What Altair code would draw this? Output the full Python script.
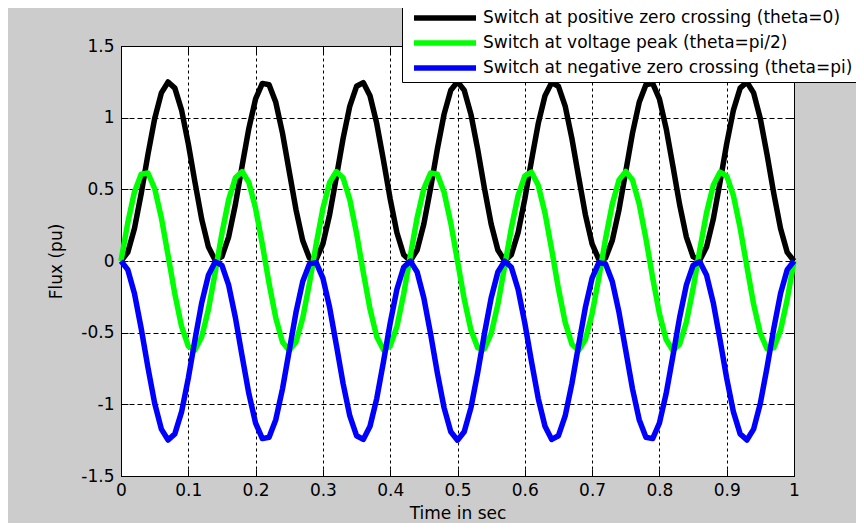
import altair as alt
import pandas as pd

# sample times (s)
time_s = [
    0.00, 0.01, 0.02, 0.03, 0.04, 0.05, 0.06, 0.07, 0.08, 0.09,
    0.10, 0.11, 0.12, 0.13, 0.14, 0.15, 0.16, 0.17, 0.18, 0.19,
    0.20, 0.21, 0.22, 0.23, 0.24, 0.25, 0.26, 0.27, 0.28, 0.29,
    0.30, 0.31, 0.32, 0.33, 0.34, 0.35, 0.36, 0.37, 0.38, 0.39,
    0.40, 0.41, 0.42, 0.43, 0.44, 0.45, 0.46, 0.47, 0.48, 0.49,
    0.50, 0.51, 0.52, 0.53, 0.54, 0.55, 0.56, 0.57, 0.58, 0.59,
    0.60, 0.61, 0.62, 0.63, 0.64, 0.65, 0.66, 0.67, 0.68, 0.69,
    0.70, 0.71, 0.72, 0.73, 0.74, 0.75, 0.76, 0.77, 0.78, 0.79,
    0.80, 0.81, 0.82, 0.83, 0.84, 0.85, 0.86, 0.87, 0.88, 0.89,
    0.90, 0.91, 0.92, 0.93, 0.94, 0.95, 0.96, 0.97, 0.98, 0.99,
    1.00,
]

flux_theta0 = [
    0.000, 0.060, 0.227, 0.470, 0.742, 0.992, 1.173, 1.249, 1.206, 1.053,
    0.818, 0.547, 0.290, 0.097, 0.005, 0.031, 0.169, 0.395, 0.664, 0.926,
    1.131, 1.239, 1.230, 1.107, 0.891, 0.625, 0.359, 0.143, 0.020, 0.011,
    0.119, 0.324, 0.586, 0.855, 1.081, 1.219, 1.245, 1.153, 0.960, 0.703,
    0.432, 0.197, 0.044, 0.001, 0.077, 0.258, 0.508, 0.780, 1.023, 1.191,
    1.250, 1.191, 1.023, 0.780, 0.508, 0.258, 0.077, 0.001, 0.044, 0.197,
    0.432, 0.703, 0.960, 1.153, 1.245, 1.219, 1.081, 0.855, 0.586, 0.324,
    0.119, 0.011, 0.020, 0.143, 0.359, 0.625, 0.891, 1.107, 1.230, 1.239,
    1.131, 0.926, 0.664, 0.395, 0.169, 0.031, 0.005, 0.097, 0.290, 0.547,
    0.818, 1.053, 1.206, 1.249, 1.173, 0.992, 0.742, 0.470, 0.227, 0.060,
    0.000,
]

flux_theta_half_pi = [
    0.000, 0.266, 0.482, 0.605, 0.614, 0.506, 0.301, 0.039, -0.230, -0.456,
    -0.594, -0.620, -0.528, -0.335, -0.078, 0.193, 0.428, 0.581, 0.624, 0.548,
    0.367, 0.117, -0.155, -0.398, -0.566, -0.625, -0.566, -0.398, -0.155, 0.117,
    0.367, 0.548, 0.624, 0.581, 0.428, 0.193, -0.078, -0.335, -0.528, -0.620,
    -0.594, -0.456, -0.230, 0.039, 0.301, 0.506, 0.614, 0.605, 0.482, 0.266,
    0.000, -0.266, -0.482, -0.605, -0.614, -0.506, -0.301, -0.039, 0.230, 0.456,
    0.594, 0.620, 0.528, 0.335, 0.078, -0.193, -0.428, -0.581, -0.624, -0.548,
    -0.367, -0.117, 0.155, 0.398, 0.566, 0.625, 0.566, 0.398, 0.155, -0.117,
    -0.367, -0.548, -0.624, -0.581, -0.428, -0.193, 0.078, 0.335, 0.528, 0.620,
    0.594, 0.456, 0.230, -0.039, -0.301, -0.506, -0.614, -0.605, -0.482, -0.266,
    0.000,
]

flux_theta_pi = [
    -0.000, -0.060, -0.227, -0.470, -0.742, -0.992, -1.173, -1.249, -1.206, -1.053,
    -0.818, -0.547, -0.290, -0.097, -0.005, -0.031, -0.169, -0.395, -0.664, -0.926,
    -1.131, -1.239, -1.230, -1.107, -0.891, -0.625, -0.359, -0.143, -0.020, -0.011,
    -0.119, -0.324, -0.586, -0.855, -1.081, -1.219, -1.245, -1.153, -0.960, -0.703,
    -0.432, -0.197, -0.044, -0.001, -0.077, -0.258, -0.508, -0.780, -1.023, -1.191,
    -1.250, -1.191, -1.023, -0.780, -0.508, -0.258, -0.077, -0.001, -0.044, -0.197,
    -0.432, -0.703, -0.960, -1.153, -1.245, -1.219, -1.081, -0.855, -0.586, -0.324,
    -0.119, -0.011, -0.020, -0.143, -0.359, -0.625, -0.891, -1.107, -1.230, -1.239,
    -1.131, -0.926, -0.664, -0.395, -0.169, -0.031, -0.005, -0.097, -0.290, -0.547,
    -0.818, -1.053, -1.206, -1.249, -1.173, -0.992, -0.742, -0.470, -0.227, -0.060,
    -0.000,
]

series_names = [
    "Switch at positive zero crossing (theta=0)",
    "Switch at voltage peak (theta=pi/2)",
    "Switch at negative zero crossing (theta=pi)",
]
series_colors = ["#000000", "#00ff00", "#0000ff"]

x_ticks = [0, 0.1, 0.2, 0.3, 0.4, 0.5, 0.6, 0.7, 0.8, 0.9, 1]
y_ticks = [-1.5, -1, -0.5, 0, 0.5, 1, 1.5]

rows = []
for name, vals in zip(series_names, [flux_theta0, flux_theta_half_pi, flux_theta_pi]):
    for t, v in zip(time_s, vals):
        rows.append({"series": name, "time": t, "flux": v})
df = pd.DataFrame(rows)

FONT = "DejaVu Sans"
xscale = alt.Scale(domain=[0, 1], nice=False, zero=False)
yscale = alt.Scale(domain=[-1.5, 1.5], nice=False, zero=False)

base = alt.Chart(df)

lines = base.mark_line(strokeWidth=5.5, strokeJoin="round").encode(
    x=alt.X(
        "time:Q",
        scale=xscale,
        axis=alt.Axis(
            values=x_ticks, labelExpr="'' + datum.value", title="Time in sec",
            grid=True, gridDash=[3, 3], gridColor="black", gridOpacity=1, gridWidth=1,
            ticks=False, domain=True, domainColor="black", domainWidth=1,
            labelFont=FONT, labelFontSize=17, labelColor="black", labelPadding=6,
            labelFlush=False, labelOverlap=False,
            titleFont=FONT, titleFontSize=17, titleFontWeight="normal",
            titleColor="black", titlePadding=7,
        ),
    ),
    y=alt.Y(
        "flux:Q",
        scale=yscale,
        axis=alt.Axis(
            values=y_ticks, labelExpr="'' + datum.value", title="Flux (pu)",
            grid=True, gridDash=[5, 3], gridColor="black", gridOpacity=1, gridWidth=1,
            ticks=False, domain=True, domainColor="black", domainWidth=1,
            labelFont=FONT, labelFontSize=17, labelColor="black", labelPadding=7,
            labelFlush=False, labelOverlap=False,
            titleFont=FONT, titleFontSize=17, titleFontWeight="normal",
            titleColor="black", titlePadding=15,
        ),
    ),
    color=alt.Color(
        "series:N",
        scale=alt.Scale(domain=series_names, range=series_colors),
        sort=series_names,
        legend=alt.Legend(
            title=None, orient="none", legendX=281, legendY=-45,
            direction="vertical", symbolType="M-2.82,0L2.82,0", symbolSize=484,
            symbolStrokeWidth=5.5, symbolOffset=26, labelOffset=24,
            labelFont=FONT, labelFontSize=17,
            labelColor="black", labelLimit=600,
            fillColor="white", strokeColor="black", padding=3, rowPadding=0,
        ),
    ),
)

ticks_in_a = base.mark_point(opacity=0).encode(
    x=alt.X("time:Q", scale=xscale, axis=alt.Axis(
        orient="bottom", offset=-7, tickSize=7, tickColor="black", tickWidth=1,
        labels=False, domain=False, grid=False, title=None, values=x_ticks)),
    y=alt.Y("flux:Q", scale=yscale, axis=alt.Axis(
        orient="left", offset=-7, tickSize=7, tickColor="black", tickWidth=1,
        labels=False, domain=False, grid=False, title=None, values=y_ticks)),
)
ticks_in_b = base.mark_point(opacity=0).encode(
    x=alt.X("time:Q", scale=xscale, axis=alt.Axis(
        orient="top", offset=-7, tickSize=7, tickColor="black", tickWidth=1,
        labels=False, domain=False, grid=False, title=None, values=x_ticks)),
    y=alt.Y("flux:Q", scale=yscale, axis=alt.Axis(
        orient="right", offset=-7, tickSize=7, tickColor="black", tickWidth=1,
        labels=False, domain=False, grid=False, title=None, values=y_ticks)),
)

chart = (
    alt.layer(lines, ticks_in_a, ticks_in_b)
    .resolve_axis(x="independent", y="independent")
    .properties(
        width=673, height=430,
        autosize=alt.AutoSizeParams(type="none"),
        padding={"left": 113, "top": 38, "right": 62, "bottom": 47},
        background="#cccccc",
    )
    .configure_view(fill="white", stroke="black", strokeWidth=1)
)

chart.save("out.html", embed_options={"renderer": "svg", "actions": False})
